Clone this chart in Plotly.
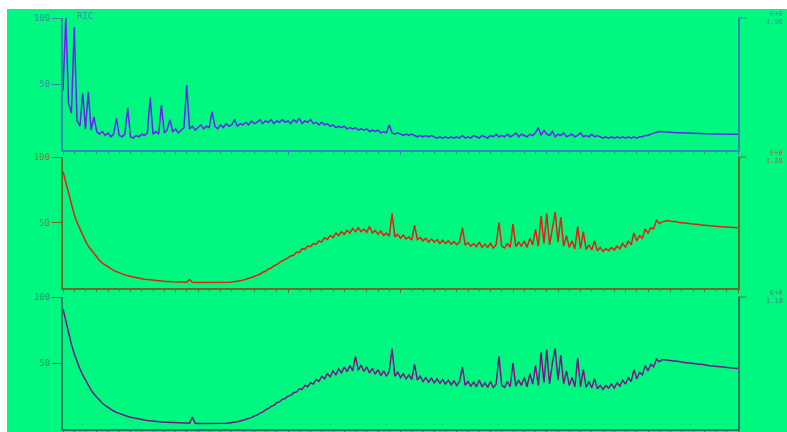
import plotly.graph_objects as go

# Time axis runs 0..60 (minor tick units); samples every 0.25 unit
ric_blue = [45, 100, 35, 28, 93, 22, 18, 43, 16, 44, 15, 25, 14, 12, 14, 11, 13, 10, 12, 24,
            11, 10, 12, 32, 10, 9, 11, 10, 12, 11, 13, 40, 12, 14, 12, 34, 13, 15, 23, 14,
            16, 13, 15, 17, 49, 16, 18, 15, 17, 19, 16, 18, 17, 29, 18, 16, 19, 17, 20, 18,
            19, 23, 18, 20, 19, 21, 19, 22, 20, 21, 23, 20, 22, 21, 23, 20, 22, 21, 23, 21,
            22, 20, 23, 21, 24, 20, 22, 21, 23, 20, 21, 19, 21, 19, 20, 18, 19, 17, 18, 17,
            18, 16, 17, 16, 17, 15, 16, 15, 16, 14, 15, 14, 15, 13, 14, 13, 19, 13, 12, 13,
            12, 11, 12, 11, 12, 11, 10, 11, 10, 11, 10, 11, 10, 9, 10, 9, 10, 9, 10, 9,
            10, 9, 11, 9, 10, 9, 11, 10, 9, 11, 10, 9, 11, 10, 12, 10, 11, 10, 12, 10,
            11, 13, 10, 12, 11, 10, 12, 11, 13, 17, 11, 15, 12, 11, 14, 10, 12, 11, 13, 10,
            11, 12, 10, 11, 13, 10, 11, 10, 12, 10, 11, 10, 9, 10, 9, 10, 9, 10, 9, 10,
            9, 10, 9, 10, 9, 10, 10, 11, 11, 12, 13, 13.5, 14, 14, 13.8, 13.5, 13.5, 13.3, 13.2, 13,
            13, 13, 12.8, 12.8, 12.7, 12.6, 12.5, 12.5, 12.4, 12.3, 12.3, 12.2, 12.2, 12.1, 12.1, 12, 12, 12, 12, 12,
            12]

trace_red = [89, 81, 71, 63, 56, 50, 45, 40, 36, 32, 29, 26, 23.5, 21, 19, 17.5, 16, 14.5, 13.5, 12.5,
             11.5, 10.8, 10, 9.4, 8.8, 8.3, 7.8, 7.4, 7, 6.7, 6.4, 6.1, 5.9, 5.7, 5.5, 5.3, 5.1, 5, 4.9, 4.8,
             4.7, 4.6, 4.5, 4.8, 4.4, 6.5, 4.3, 4.2, 4.2, 4.1, 4.1, 4.1, 4.0, 4.0, 4.1, 4.0, 4.2, 4.1, 4.3, 4.4,
             4.6, 4.8, 5.1, 5.5, 6.0, 6.6, 7.2, 8.0, 8.8, 9.8, 10.5, 12, 12.8, 14.5, 15.2, 17, 17.8, 19.5, 20.5, 22,
             23, 24.5, 25, 27.5, 27, 30, 29.5, 32, 31.5, 34, 33.5, 36, 35, 38.5, 37, 40, 38.5, 42, 40, 43,
             41, 44, 42, 45.5, 43, 46, 43, 45, 42.5, 47, 42, 44, 41, 43.5, 40, 42, 39.5, 57, 39, 41,
             38, 40.5, 37.5, 39, 36.5, 48, 37, 38.5, 36, 38, 35, 37.5, 35, 37, 34, 36.5, 34, 36, 33.5, 35.5,
             33, 35, 46, 33, 34.5, 32, 34, 31.5, 35, 31, 33.5, 31, 34, 30.5, 33, 50, 32, 30.5, 34, 31,
             49, 31.5, 35, 32, 36, 31, 38, 33, 45, 32, 55, 34, 57, 33, 46, 58, 35, 54, 32, 40,
             31, 36, 30, 47, 30, 43, 29.5, 33, 29, 36, 28.5, 31, 28, 30, 28.5, 31, 29, 32, 30, 34,
             31, 36, 33, 42, 36, 40, 38, 45, 42, 46, 45, 52, 49, 50.5, 51, 51.5, 51, 51, 50.5, 50,
             50, 49.5, 49.5, 49, 49, 48.5, 48.5, 48, 48, 47.8, 47.5, 47.3, 47, 47, 46.8, 46.6, 46.5, 46.3, 46.2, 46,
             46]

trace_purple = [91, 82, 72, 64, 57, 51, 45.5, 41, 37, 33, 29.5, 26.5, 24, 21.5, 19.5, 17.8, 16.2, 14.8, 13.6, 12.6,
                11.7, 10.9, 10.1, 9.5, 8.9, 8.4, 7.9, 7.5, 7.1, 6.8, 6.5, 6.2, 6.0, 5.8, 5.6, 5.4, 5.2, 5.1, 5.0, 4.9,
                4.8, 4.7, 4.6, 4.5, 4.5, 4.4, 9, 4.3, 4.2, 4.2, 4.1, 4.1, 4.1, 4.0, 4.0, 4.1, 4.2, 4.2, 4.4, 4.6,
                4.8, 5.1, 5.5, 6.0, 6.6, 7.2, 8.0, 8.6, 9.8, 10.5, 12, 12.8, 14.5, 15.5, 17.2, 18, 20, 20.5, 22.5, 23,
                25, 25.5, 27.5, 28, 30.5, 30, 33, 32, 35, 34, 37.5, 36, 40, 38, 42, 39.5, 44, 41, 45.5, 42.5,
                47, 43.5, 48, 44, 55, 44.5, 48.5, 43.5, 47, 42.5, 46, 41.5, 45, 40.5, 44, 40, 43.5, 61, 40, 43,
                39, 42, 38, 41, 37.5, 49, 37, 40, 36, 39, 35.5, 38.5, 35, 38, 34.5, 37.5, 34, 37, 33.5, 36.5,
                33, 36, 47, 33, 36, 32.5, 35.5, 32, 37, 32, 35, 31.5, 36, 31.5, 34, 55, 33, 31.5, 36, 32,
                50, 32.5, 37, 33, 39, 32, 42, 34, 48, 33, 58, 35, 60, 34, 50, 61, 37, 56, 34, 44,
                33, 39, 32, 54, 32, 45, 31.5, 36, 31, 38, 30.5, 33, 30, 33, 31, 34, 31, 35, 32.5, 37,
                34, 39, 36, 45, 38, 43, 41, 48, 44, 49, 47, 53, 51, 52.5, 52.5, 52, 52, 51.5, 51.5, 51,
                51, 50.5, 50, 50, 49.5, 49.5, 49, 49, 48.5, 48.3, 48, 47.8, 47.5, 47.3, 47, 46.8, 46.6, 46.4, 46.2, 46,
                45.8]

panel_titles = ["RIC", "", ""]
right_exp = ["E+0", "E+0", "E+0"]
right_scale = ["4.96", "1.28", "1.10"]
y_ticks = [50, 100]
y_ticktext = ["50", "100"]

series = [ric_blue, trace_red, trace_purple]
line_colors = ["#6a22f2", "#e41e10", "#7a1488"]
axis_colors = ["#2f8cb0", "#6e6a2a", "#2a7a68"]
label_colors = ["#3c8caa", "#857a40", "#3d8a7a"]

BG = "#00f880"
W, H = 787, 432
def px_x(p):
    return p / W
def px_y(p):
    return (H - p) / H

x_dom = [px_x(63), px_x(738)]
y_doms = [[px_y(150), px_y(18)],
          [px_y(288), px_y(157)],
          [px_y(429), px_y(297)]]

fig = go.Figure()
for k, vals in enumerate(series):
    n = len(vals)
    xs = [60 * i / (n - 1) for i in range(n)]
    sfx = "" if k == 0 else str(k + 1)
    fig.add_trace(go.Scatter(x=xs, y=vals, mode="lines",
                             line=dict(color=line_colors[k], width=1.5),
                             xaxis="x" + sfx, yaxis="y" + sfx, showlegend=False,
                             hoverinfo="skip"))
    fig.layout["xaxis" + sfx] = dict(domain=x_dom, range=[0, 60], anchor="y" + sfx,
                                     automargin=False,
                                     showgrid=False, zeroline=False, showline=True,
                                     linecolor=axis_colors[k], linewidth=2,
                                     ticks="outside", ticklen=3, tickwidth=1,
                                     tickcolor=axis_colors[k], dtick=10, tick0=0,
                                     minor=dict(dtick=1, ticklen=2, tickcolor=axis_colors[k], ticks="outside"),
                                     showticklabels=False, fixedrange=True)
    fig.layout["yaxis" + sfx] = dict(domain=y_doms[k], range=[0, 100], anchor="x" + sfx,
                                     automargin=False,
                                     showgrid=False, zeroline=False, showline=True,
                                     mirror=True, linecolor=axis_colors[k], linewidth=2,
                                     ticks="outside", ticklen=9, tickwidth=1,
                                     tickcolor=axis_colors[k],
                                     tickvals=y_ticks, ticktext=y_ticktext,
                                     tickfont=dict(family="DejaVu Sans Mono", size=9,
                                                   color=label_colors[k]),
                                     fixedrange=True)
    top = y_doms[k][1]
    fig.add_annotation(xref="paper", yref="paper", x=px_x(785), y=top + 4 / H,
                       text=right_exp[k], showarrow=False, xanchor="right", yanchor="middle",
                       font=dict(family="DejaVu Sans Mono", size=7, color=label_colors[k]))
    fig.add_annotation(xref="paper", yref="paper", x=px_x(785), y=top - 4 / H,
                       text=right_scale[k], showarrow=False, xanchor="right", yanchor="middle",
                       font=dict(family="DejaVu Sans Mono", size=7, color=label_colors[k]))
    fig.add_shape(type="line", xref="paper", yref="paper",
                  x0=px_x(738), x1=px_x(746), y0=top, y1=top,
                  line=dict(color=axis_colors[k], width=1))
    if panel_titles[k]:
        fig.add_annotation(xref="paper", yref="paper", x=px_x(75), y=top + 2 / H,
                           text=panel_titles[k], showarrow=False, xanchor="left", yanchor="middle",
                           font=dict(family="DejaVu Sans Mono", size=9, color=label_colors[k]))

# white border strips (top and left) of the original picture
fig.add_shape(type="rect", xref="paper", yref="paper", x0=0, x1=1, y0=px_y(9), y1=1.05,
              fillcolor="white", line=dict(width=0), layer="below")
fig.add_shape(type="rect", xref="paper", yref="paper", x0=-0.01, x1=px_x(7), y0=-0.05, y1=1.05,
              fillcolor="white", line=dict(width=0), layer="below")

fig.update_layout(width=W, height=H, margin=dict(l=0, r=0, t=0, b=0, pad=0, autoexpand=False),
                  paper_bgcolor=BG, plot_bgcolor=BG, showlegend=False)

fig.write_html("out.html", config={"displayModeBar": False},
               post_script="document.body.style.margin='0';"
                           "document.body.style.overflow='hidden';")
